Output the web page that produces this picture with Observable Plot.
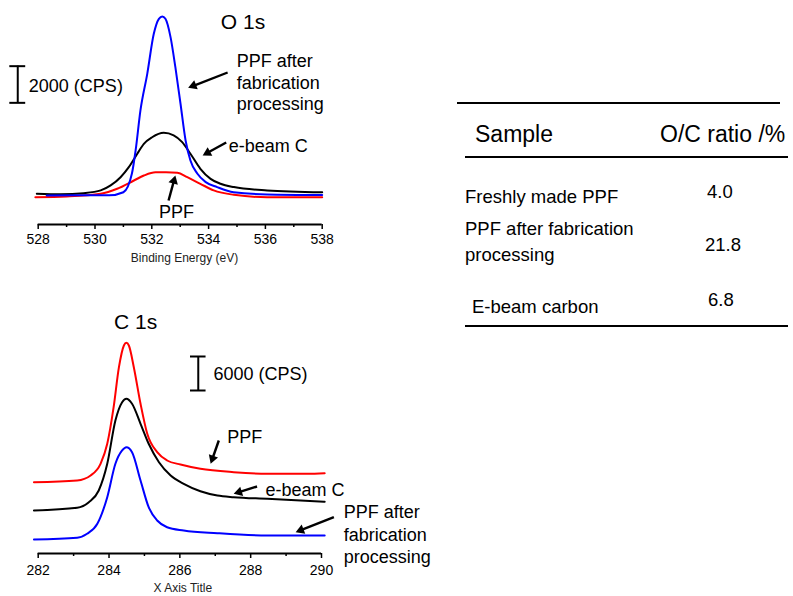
<!DOCTYPE html>
<html><head><meta charset="utf-8">
<script src="https://cdn.jsdelivr.net/npm/d3@7"></script>
<script src="https://cdn.jsdelivr.net/npm/@observablehq/plot@0.6"></script>
<style>
body{margin:0;background:#fff;}
#root{position:relative;width:793px;height:596px;overflow:hidden;font-family:"Liberation Sans",Arial,sans-serif;color:#000;background:#fff}
#o1s{position:absolute;left:0;top:0}
#c1s{position:absolute;left:0;top:300px}
.t{position:absolute;white-space:pre}
.rule{position:absolute;height:2px;background:#000}
</style></head><body><div id="root"><div id="o1s"></div><div id="c1s"></div></div>
<script>
// ---------- O 1s spectra (binding energy eV, counts CPS) ----------
const oEnergyBlack = [527.95, 528.8, 529.6, 530.2, 530.55, 530.9, 531.19, 531.49, 531.72, 532.01, 532.42, 532.77, 533.07, 533.36, 533.71, 534.07, 534.42, 534.89, 536.06, 538.0];
const oCountsBlack = [1680, 1650, 1710, 1860, 2130, 2580, 3130, 3860, 4400, 4760, 5000, 4860, 4490, 3860, 3040, 2490, 2220, 2040, 1860, 1760];
const oEnergyRed = [527.9, 529.0, 530.2, 530.78, 531.37, 531.72, 532.13, 532.5, 532.9, 533.25, 533.71, 534.18, 534.89, 536.06, 538.0];
const oCountsRed = [1490, 1530, 1680, 1950, 2400, 2670, 2850, 2850, 2820, 2580, 2220, 1860, 1620, 1490, 1490];
const oEnergyBlue = [528.3, 529.5, 530.5, 531.0, 531.3, 531.43, 531.6, 531.84, 532.07, 532.25, 532.37, 532.48, 532.66, 532.83, 533.01, 533.19, 533.36, 533.6, 533.9, 534.3, 534.88, 536.06, 538.0];
const oCountsBlue = [1580, 1590, 1590, 1760, 2780, 4040, 6220, 8220, 10400, 11220, 11350, 11220, 10220, 8580, 6600, 4580, 3490, 2780, 2310, 2040, 1760, 1640, 1610];
const oMajorTicks = [528, 530, 532, 534, 536, 538];
const oMinorTicks = [529, 531, 533, 535, 537];
const oTitle = {t: "O 1s", e: 535.21, c: 11018};
const oLabelText = ["PPF after\nfabrication\nprocessing", "e-beam C", "PPF", "2000 (CPS)"];
const oLabelE = [534.99, 534.71, 532.25, 527.67];
const oLabelC = [7800, 4364, 725, 7636];
const oArrowE1 = [534.67, 534.62, 532.59], oArrowC1 = [8291, 4473, 1309];
const oArrowE2 = [533.28, 533.79, 532.83], oArrowC2 = [7456, 3764, 2673];
const oBar = {e: 527.28, c0: 6636, c1: 8636, hw: 0.28};

// ---------- C 1s spectra ----------
const cEnergyRed = [281.88, 283.1, 283.48, 283.76, 283.95, 284.13, 284.28, 284.42, 284.49, 284.56, 284.7, 284.89, 285.08, 285.36, 285.64, 286.02, 286.58, 287.52, 288.47, 289.6, 290.09];
const cCountsRed = [12580, 12880, 13770, 15830, 19360, 25820, 32880, 36710, 37180, 36710, 32880, 26420, 21120, 17880, 16410, 15710, 14950, 14350, 14070, 14070, 14170];
const cEnergyBlack = [281.88, 283.1, 283.43, 283.71, 283.95, 284.18, 284.37, 284.49, 284.65, 284.89, 285.12, 285.41, 285.74, 286.11, 286.58, 287.06, 287.52, 288.47, 289.41, 290.09];
const cCountsBlack = [7590, 8070, 9050, 11120, 15830, 23470, 26700, 27300, 26420, 22890, 19360, 16110, 13770, 12300, 10990, 10240, 9940, 9650, 9350, 9120];
const cEnergyBlue = [281.88, 283.1, 283.38, 283.67, 283.95, 284.18, 284.37, 284.49, 284.65, 284.89, 285.12, 285.36, 285.64, 286.11, 287.06, 288.47, 290.09];
const cCountsBlue = [2470, 2770, 3480, 5240, 9940, 15830, 18180, 18760, 17880, 12880, 8170, 5820, 4640, 4060, 3580, 3180, 3180];
const cMajorTicks = [282, 284, 286, 288, 290];
const cMinorTicks = [283, 285, 287, 289];
const cTitle = {t: "C 1s", e: 284.75, c: 40820};
const cLabelText = ["6000 (CPS)", "PPF", "e-beam C", "PPF after\nfabrication\nprocessing"];
const cLabelE = [286.95, 287.34, 288.42, 290.63];
const cLabelC = [31820, 20820, 11420, 3480];
const cArrowE1 = [287.10, 288.18, 290.35], cArrowC1 = [19940, 11820, 6410];
const cArrowE2 = [286.87, 287.52, 289.27], cArrowC2 = [15830, 10540, 3760];
const cBar = {e: 286.52, c0: 28765, c1: 34765, hw: 0.22};

// ---------- table ----------
const tableHeader = ["Sample", "O/C ratio /%"];
const sampleNames = ["Freshly made PPF", "PPF after fabrication\nprocessing", "E-beam carbon"];
const ocRatios = [4.0, 21.8, 6.8];

const FONT = '"Liberation Sans", Arial, sans-serif';

function toRows(name, E, C) { return E.map((e, i) => ({name, e, c: C[i]})); }

function buildPlot(cfg) {
  const {width, height, ml, mr, mt, mb, xDomain, yDomain} = cfg;
  const sx = d3.scaleLinear(xDomain, [ml, width - mr]);
  const sy = d3.scaleLinear(yDomain, [height - mb, mt]);
  const r = 3.6, tipBack = 1.555 * r;
  const arrows = cfg.arrowE1.map((_, i) => {
    const px1 = sx(cfg.arrowE1[i]), py1 = sy(cfg.arrowC1[i]);
    const px2 = sx(cfg.arrowE2[i]), py2 = sy(cfg.arrowC2[i]);
    const L = Math.hypot(px2 - px1, py2 - py1);
    const ux = (px2 - px1) / L, uy = (py2 - py1) / L;
    const cx = px2 - ux * tipBack, cy = py2 - uy * tipBack;
    return {x1: cfg.arrowE1[i], y1: cfg.arrowC1[i], x2: sx.invert(cx), y2: sy.invert(cy),
            rot: Math.atan2(ux, -uy) * 180 / Math.PI};
  });
  const labels = cfg.labelText.map((t, i) => ({t, e: cfg.labelE[i], c: cfg.labelC[i]}));
  const rows = cfg.series.flatMap(s => toRows(s.name, s.e, s.c));
  const bar = cfg.bar;
  return Plot.plot({
    width, height, marginLeft: ml, marginRight: mr, marginTop: mt, marginBottom: mb,
    style: {fontFamily: FONT, fontSize: "14px", background: "transparent", overflow: "visible", color: "#000"},
    x: {domain: xDomain, axis: null},
    y: {domain: yDomain, axis: null},
    color: {domain: cfg.series.map(s => s.name), range: cfg.series.map(s => s.color)},
    marks: [
      Plot.line(rows, {x: "e", y: "c", z: "name", stroke: "name", strokeWidth: 2, curve: "monotone-x"}),
      Plot.ruleY([yDomain[0]], {strokeWidth: 2}),
      Plot.axisX({ticks: cfg.majorTicks, tickSize: 5, tickPadding: cfg.tickPadding, strokeWidth: 1.5, fontSize: 14, label: null, tickFormat: d => String(d)}),
      Plot.axisX({ticks: cfg.minorTicks, tickSize: 3, strokeWidth: 1.5, tickFormat: () => "", label: null}),
      Plot.text([cfg.axisTitle], {text: d => d, frameAnchor: "bottom", dy: cfg.titleDy, dx: cfg.titleDx, fontSize: 12, fill: "#222", lineAnchor: "middle"}),
      Plot.ruleX([bar], {x: "e", y1: "c0", y2: "c1", strokeWidth: 2}),
      Plot.ruleY([bar.c0, bar.c1], {y: d => d, x1: bar.e - bar.hw, x2: bar.e + bar.hw, strokeWidth: 2}),
      Plot.text([cfg.title], {x: "e", y: "c", text: "t", textAnchor: "middle", fontSize: 21, lineAnchor: "middle"}),
      Plot.text(labels, {x: "e", y: "c", text: "t", textAnchor: "start", fontSize: 18, lineHeight: cfg.lineHeight, lineAnchor: "middle"}),
      Plot.link(arrows, {x1: "x1", y1: "y1", x2: "x2", y2: "y2", strokeWidth: 2.4, stroke: "black"}),
      Plot.dot(arrows, {x: "x2", y: "y2", symbol: "triangle", r, fill: "black", stroke: "none", rotate: "rot"})
    ]
  });
}

const o1s = buildPlot({
  width: 345, height: 270, ml: 37.7, mr: 23.3, mt: 4, mb: 46,
  xDomain: [528, 538], yDomain: [0, 12000],
  series: [
    {name: "e-beam C", color: "#000000", e: oEnergyBlack, c: oCountsBlack},
    {name: "PPF", color: "#ff0000", e: oEnergyRed, c: oCountsRed},
    {name: "PPF after fabrication processing", color: "#0000ff", e: oEnergyBlue, c: oCountsBlue}
  ],
  majorTicks: oMajorTicks, minorTicks: oMinorTicks, tickPadding: 5,
  axisTitle: "Binding Energy (eV)", titleDx: 4.3, titleDy: 34,
  title: oTitle, labelText: oLabelText, labelE: oLabelE, labelC: oLabelC, lineHeight: 1.22,
  arrowE1: oArrowE1, arrowC1: oArrowC1, arrowE2: oArrowE2, arrowC2: oArrowC2, bar: oBar
});
document.getElementById("o1s").appendChild(o1s);

const c1s = buildPlot({
  width: 440, height: 296, ml: 37.7, mr: 119, mt: 26.33, mb: 43,
  xDomain: [282, 290], yDomain: [0, 40000],
  series: [
    {name: "e-beam C", color: "#000000", e: cEnergyBlack, c: cCountsBlack},
    {name: "PPF", color: "#ff0000", e: cEnergyRed, c: cCountsRed},
    {name: "PPF after fabrication processing", color: "#0000ff", e: cEnergyBlue, c: cCountsBlue}
  ],
  majorTicks: cMajorTicks, minorTicks: cMinorTicks, tickPadding: 7,
  axisTitle: "X Axis Title", titleDx: 3, titleDy: 34.5,
  title: cTitle, labelText: cLabelText, labelE: cLabelE, labelC: cLabelC, lineHeight: 1.25,
  arrowE1: cArrowE1, arrowC1: cArrowC1, arrowE2: cArrowE2, arrowC2: cArrowC2, bar: cBar
});
document.getElementById("c1s").appendChild(c1s);

// ---------- table (HTML) ----------
const root = document.getElementById("root");
function addText(txt, left, baseline, fs, lh) {
  lh = lh || fs;
  const d = document.createElement("div");
  d.className = "t";
  d.style.left = left + "px";
  d.style.fontSize = fs + "px";
  d.style.lineHeight = lh + "px";
  d.style.top = (baseline - ((lh - 1.117 * fs) / 2 + 0.905 * fs)) + "px";
  d.textContent = txt;
  root.appendChild(d);
}
function addRule(left, top, width) {
  const d = document.createElement("div");
  d.className = "rule";
  d.style.left = left + "px"; d.style.top = top + "px"; d.style.width = width + "px";
  root.appendChild(d);
}
addRule(457, 102.3, 323);
addRule(465, 155.5, 323);
addRule(465, 324.7, 323);
addText(tableHeader[0], 475, 142, 23);
addText(tableHeader[1], 660, 142, 23);
const nameLeft = [465, 465, 472], nameBase = [203.3, 235, 313.3];
const ratioLeft = [707, 705, 708], ratioBase = [198.3, 251.7, 306.7];
sampleNames.forEach((n, i) => addText(n, nameLeft[i], nameBase[i], 18.5, 26));
ocRatios.forEach((v, i) => addText(v.toFixed(1), ratioLeft[i], ratioBase[i], 18.5));
</script></body></html>
